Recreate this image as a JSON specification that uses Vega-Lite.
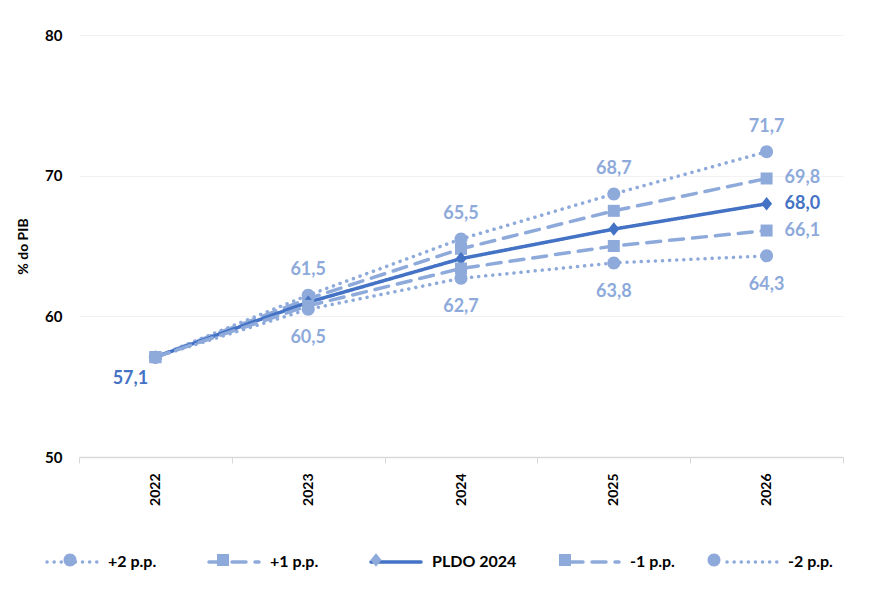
{
  "$schema": "https://vega.github.io/schema/vega-lite/v6.json",
  "width": 764,
  "height": 422,
  "autosize": {"type": "none"},
  "padding": {"left": 79, "top": 35, "right": 26, "bottom": 135},
  "background": "white",
  "config": {
    "font": "Lato",
    "view": {"stroke": null},
    "locale": {"number": {"decimal": ",", "thousands": ".", "grouping": [3], "currency": ["", " €"]}}
  },
  "data": {
    "values": [
      {"year": "2022", "series": "+2 p.p.", "value": 57.1},
      {"year": "2023", "series": "+2 p.p.", "value": 61.5},
      {"year": "2024", "series": "+2 p.p.", "value": 65.5},
      {"year": "2025", "series": "+2 p.p.", "value": 68.7},
      {"year": "2026", "series": "+2 p.p.", "value": 71.7},
      {"year": "2022", "series": "+1 p.p.", "value": 57.1},
      {"year": "2023", "series": "+1 p.p.", "value": 61.25},
      {"year": "2024", "series": "+1 p.p.", "value": 64.8},
      {"year": "2025", "series": "+1 p.p.", "value": 67.5},
      {"year": "2026", "series": "+1 p.p.", "value": 69.8},
      {"year": "2022", "series": "PLDO 2024", "value": 57.1},
      {"year": "2023", "series": "PLDO 2024", "value": 61.0},
      {"year": "2024", "series": "PLDO 2024", "value": 64.1},
      {"year": "2025", "series": "PLDO 2024", "value": 66.2},
      {"year": "2026", "series": "PLDO 2024", "value": 68.0},
      {"year": "2022", "series": "-1 p.p.", "value": 57.1},
      {"year": "2023", "series": "-1 p.p.", "value": 60.75},
      {"year": "2024", "series": "-1 p.p.", "value": 63.4},
      {"year": "2025", "series": "-1 p.p.", "value": 65.0},
      {"year": "2026", "series": "-1 p.p.", "value": 66.1},
      {"year": "2022", "series": "-2 p.p.", "value": 57.1},
      {"year": "2023", "series": "-2 p.p.", "value": 60.5},
      {"year": "2024", "series": "-2 p.p.", "value": 62.7},
      {"year": "2025", "series": "-2 p.p.", "value": 63.8},
      {"year": "2026", "series": "-2 p.p.", "value": 64.3}
    ]
  },
  "encoding": {
    "x": {
      "field": "year", "type": "ordinal", "title": null,
      "scale": {"paddingInner": 0, "paddingOuter": 0},
      "axis": {
        "labelAngle": -90, "labelAlign": "right", "labelBaseline": "middle",
        "labelFontSize": 14, "labelFontWeight": "bold", "labelColor": "#000000",
        "labelPadding": 10, "domainColor": "#d9d9d9", "domainWidth": 1.5,
        "tickColor": "#d9d9d9", "tickSize": 6, "tickBand": "extent", "grid": false
      }
    },
    "y": {
      "field": "value", "type": "quantitative", "title": "% do PIB",
      "scale": {"domain": [50, 80], "nice": false, "zero": false},
      "axis": {
        "values": [50, 60, 70, 80], "domain": false, "ticks": false,
        "labelFontSize": 15, "labelFontWeight": "bold", "labelColor": "#000000",
        "labelPadding": 17, "gridColor": "#f2f2f2", "gridWidth": 1,
        "titleFontSize": 14, "titleFontWeight": "bold", "titleColor": "#000000",
        "titlePadding": 14
      }
    }
  },
  "layer": [
    {
      "mark": {"type": "line", "strokeCap": "round", "strokeJoin": "round"},
      "encoding": {
        "color": {
          "field": "series", "type": "nominal",
          "scale": {
            "domain": ["+2 p.p.", "+1 p.p.", "PLDO 2024", "-1 p.p.", "-2 p.p."],
            "range": ["#8eaadb", "#8eaadb", "#4472c4", "#8eaadb", "#8eaadb"]
          },
          "legend": {
            "title": null, "orient": "none", "direction": "horizontal",
            "legendX": -34, "legendY": 500,
            "symbolType": "stroke", "symbolSize": 2500, "symbolStrokeWidth": 4,
            "labelFontSize": 16, "labelFontWeight": "bold", "labelColor": "#000000",
            "columnPadding": 45, "labelOffset": 9,
            "encode": {"symbols": {"update": {"strokeCap": {"value": "round"}}}}
          }
        },
        "strokeDash": {
          "field": "series", "type": "nominal",
          "scale": {
            "domain": ["+2 p.p.", "+1 p.p.", "PLDO 2024", "-1 p.p.", "-2 p.p."],
            "range": [[0.1, 7], [14, 9], [1, 0], [14, 9], [0.1, 7]]
          },
          "legend": null
        },
        "strokeWidth": {
          "field": "series", "type": "nominal",
          "scale": {
            "domain": ["+2 p.p.", "+1 p.p.", "PLDO 2024", "-1 p.p.", "-2 p.p."],
            "range": [3.5, 3.5, 5, 3.5, 3.5]
          },
          "legend": null
        }
      }
    },
    {
      "mark": {"type": "point", "filled": true, "opacity": 1, "size": 2500},
      "encoding": {
        "color": {"field": "series", "type": "nominal"},
        "shape": {
          "field": "series", "type": "nominal",
          "scale": {
            "domain": ["+2 p.p.", "+1 p.p.", "PLDO 2024", "-1 p.p.", "-2 p.p.", "~"],
            "range": [
              "M0.26,0A0.26,0.26,0,1,1,-0.26,0A0.26,0.26,0,1,1,0.26,0Z",
              "M-0.24,-0.24L0.24,-0.24L0.24,0.24L-0.24,0.24Z",
              "M0,-0.27L0.22,0L0,0.27L-0.22,0Z",
              "M-0.24,-0.24L0.24,-0.24L0.24,0.24L-0.24,0.24Z",
              "M0.26,0A0.26,0.26,0,1,1,-0.26,0A0.26,0.26,0,1,1,0.26,0Z",
              "circle"
            ]
          },
          "legend": {
            "title": null, "orient": "none", "direction": "horizontal",
            "legendX": -34, "legendY": 500,
            "values": ["+2 p.p.", "+1 p.p.", "PLDO 2024", "-1 p.p.", "-2 p.p."],
            "symbolSize": 2500, "symbolStrokeWidth": 0,
            "symbolFillColor": "#8eaadb",
            "labelFontSize": 16, "labelFontWeight": "bold", "labelColor": "transparent",
            "columnPadding": 45, "labelOffset": 9,
            "encode": {"symbols": {"update": {
              "fill": {"scale": "color", "field": "value"},
              "opacity": {"value": 1}
            }}}
          }
        }
      }
    },
    {
      "transform": [{"filter": "datum.series === '+2 p.p.' && datum.year !== '2022'"}],
      "mark": {"type": "text", "dy": -25, "fontSize": 18, "fontWeight": "bold", "color": "#8eaadb"},
      "encoding": {"text": {"field": "value", "type": "quantitative", "format": ".1f"}}
    },
    {
      "transform": [{"filter": "datum.series === '-2 p.p.' && datum.year !== '2022'"}],
      "mark": {"type": "text", "dy": 29, "fontSize": 18, "fontWeight": "bold", "color": "#8eaadb"},
      "encoding": {"text": {"field": "value", "type": "quantitative", "format": ".1f"}}
    },
    {
      "transform": [{"filter": "(datum.series === '+1 p.p.' || datum.series === '-1 p.p.') && datum.year === '2026'"}],
      "mark": {"type": "text", "dx": 18, "align": "left", "fontSize": 18, "fontWeight": "bold", "color": "#8eaadb"},
      "encoding": {"text": {"field": "value", "type": "quantitative", "format": ".1f"}}
    },
    {
      "transform": [{"filter": "datum.series === 'PLDO 2024' && datum.year === '2026'"}],
      "mark": {"type": "text", "dx": 18, "align": "left", "fontSize": 18, "fontWeight": "bold", "color": "#4472c4"},
      "encoding": {"text": {"field": "value", "type": "quantitative", "format": ".1f"}}
    },
    {
      "transform": [{"filter": "datum.series === 'PLDO 2024' && datum.year === '2022'"}],
      "mark": {"type": "text", "dx": -25, "dy": 22, "fontSize": 18, "fontWeight": "bold", "color": "#4472c4"},
      "encoding": {"text": {"field": "value", "type": "quantitative", "format": ".1f"}}
    }
  ]
}
